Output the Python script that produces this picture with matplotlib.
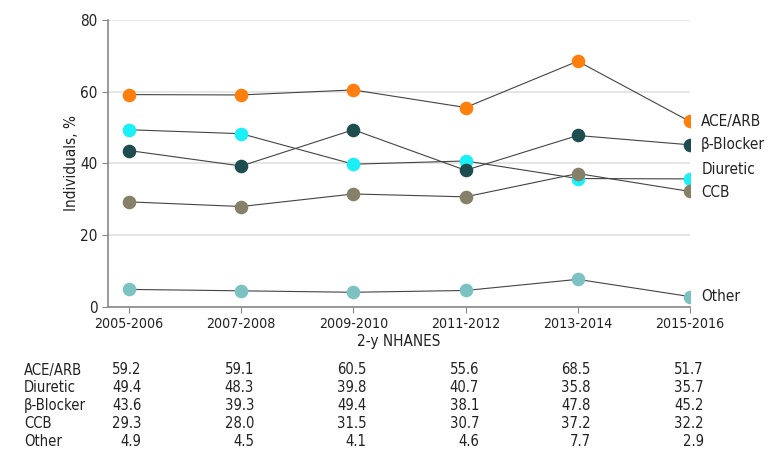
import numpy as np
import matplotlib.pyplot as plt
from matplotlib import font_manager

periods = ["2005-2006", "2007-2008", "2009-2010", "2011-2012", "2013-2014", "2015-2016"]
names = ["ACE/ARB", "Diuretic", "β-Blocker", "CCB", "Other"]
ace = [59.2, 59.1, 60.5, 55.6, 68.5, 51.7]
diuretic = [49.4, 48.3, 39.8, 40.7, 35.8, 35.7]
beta = [43.6, 39.3, 49.4, 38.1, 47.8, 45.2]
ccb = [29.3, 28.0, 31.5, 30.7, 37.2, 32.2]
other = [4.9, 4.5, 4.1, 4.6, 7.7, 2.9]
colors = ["#FF7F0E", "#1AF0F5", "#1E4D4F", "#868069", "#7CC2C2"]
label_nudge = [0, 2.5, 0, -0.3, 0]

series = [ace, diuretic, beta, ccb, other]

# look for a condensed face, the original uses a narrow font
cond = [f for f in font_manager.fontManager.ttflist
        if f.stretch in ("condensed", "semi-condensed", 'semicondensed') or "Condensed" in f.name or "Narrow" in f.name]
cond = [f for f in cond if f.style == "normal" and f.weight in (400, "normal", "regular")]
if cond:
    plt.rcParams['font.family'] = [cond[0].name, 'DejaVu Sans']
    plt.rcParams['font.stretch'] = cond[0].stretch
    fs = 11
else:
    plt.rcParams['font.family'] = ['DejaVu Sans']
    fs = 9

fig = plt.figure(figsize=(7.8, 4.59), dpi=100)
ax = fig.add_axes([0.1385, 0.3312, 0.746, 0.6253])
x = np.arange(len(periods))

for vals, c in zip(series, colors):
    ax.plot(x, vals, color="#444444", lw=0.8, zorder=2)
    ax.plot(x, vals, "o", color=c, ms=9.8, mec="none", zorder=3)

for name, vals, c, d in zip(names, series, colors, label_nudge):
    ax.text(x[-1] + 0.1, vals[-1] + d, name, fontsize=fs, va="center", ha="left",
            color="#222222", clip_on=False)

ax.set_xlim(-0.187, 5)
ax.set_ylim(0, 80)
ax.set_yticks([0, 20, 40, 60, 80])
ax.set_xticks(x)
ax.set_xticklabels(periods, fontsize=fs - 0.8)
ax.tick_params(axis="y", labelsize=fs, colors="#222222", length=4, color="#888888")
ax.tick_params(axis="x", colors="#222222", length=4, color="#888888")
ax.grid(axis="y", color="#E2E2E2", lw=1.2, zorder=0)
ax.set_axisbelow(True)
for s in ["top", "right"]:
    ax.spines[s].set_visible(False)
for s in ["left", "bottom"]:
    ax.spines[s].set_color("#888888")
    ax.spines[s].set_linewidth(1.2)
ax.set_xlabel("2-y NHANES", fontsize=fs, color="#222222", labelpad=2)
ax.set_ylabel("Individuals, %", fontsize=fs, color="#222222", labelpad=1)

# data table below the chart, right edges sit a bit right of the x ticks
col_x = [141.5, 254, 366.5, 479, 591, 703.5]
row_y = [370, 388, 405.5, 423.5, 441]
for name, vals, yy in zip(names, series, row_y):
    fig.text(24 / 780, 1 - yy / 459, name, fontsize=fs - 0.4, va="center", ha="left", color="#222222")
    for v, xx in zip(vals, col_x):
        fig.text(xx / 780, 1 - yy / 459, f"{v:.1f}", fontsize=fs - 0.4, va="center", ha="right",
                 color="#222222")

fig.savefig("out.png", dpi=100)
